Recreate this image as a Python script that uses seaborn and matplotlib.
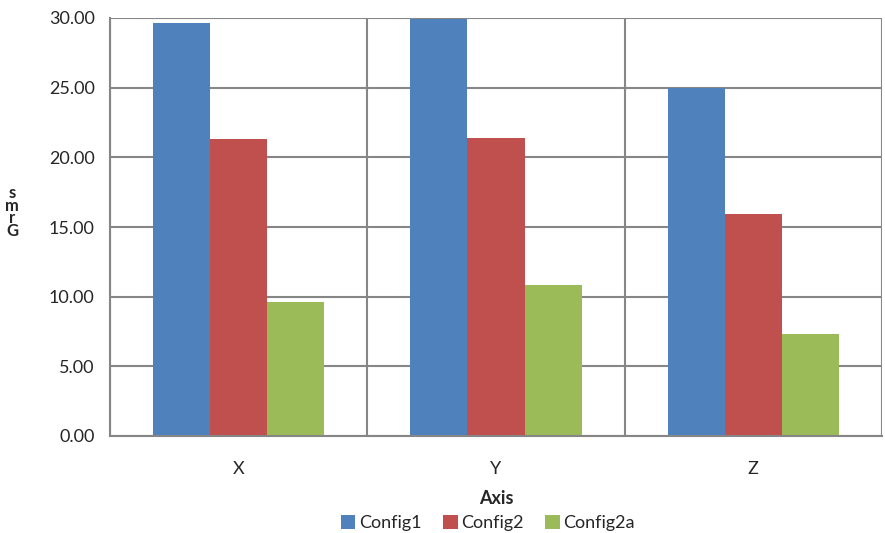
import numpy as np
import pandas as pd
import seaborn as sns
import matplotlib.pyplot as plt
from matplotlib.ticker import FixedLocator

axes_names = ['X', 'Y', 'Z']
config1 = [29.65, 29.93, 24.98]
config2 = [21.28, 21.39, 15.94]
config2a = [9.62, 10.84, 7.32]
series = ['Config1', 'Config2', 'Config2a']
colors = ['#4F81BD', '#C0504D', '#9BBB59']

df = pd.DataFrame({
    'Axis': axes_names * 3,
    'value': config1 + config2 + config2a,
    'config': [s for s in series for _ in axes_names],
})

sns.set_style('white')
plt.rcParams['font.family'] = ['Lato', 'DejaVu Sans']

fig = plt.figure(figsize=(8.85, 5.33), dpi=100)
ax = fig.add_axes([110 / 885, 1 - 436 / 533, (882 - 110) / 885, (436 - 18) / 533])

sns.barplot(data=df, x='Axis', y='value', hue='config', palette=colors,
            width=0.667, gap=0, ax=ax, legend=True, saturation=1, linewidth=0)

grid_c = '#868686'
ax.set_ylim(0, 30)
ax.set_xlim(-0.5, 2.5)
ax.set_yticks(np.arange(0, 31, 5))
ax.set_yticklabels([f'{v:.2f}' for v in np.arange(0, 31, 5)], fontsize=13)
ax.tick_params(axis='y', length=7, color=grid_c, width=1.5, pad=4)
ax.tick_params(axis='x', which='major', length=0, labelsize=13, pad=18)
ax.xaxis.set_minor_locator(FixedLocator([-0.5, 0.5, 1.5, 2.5]))
ax.tick_params(axis='x', which='minor', length=10, color=grid_c, width=1.5)
ax.set_axisbelow(True)
ax.yaxis.grid(True, color=grid_c, linewidth=1.5)
ax.xaxis.grid(True, which='minor', color=grid_c, linewidth=1.5)
for side in ['top', 'right']:
    ax.spines[side].set_visible(False)
for side in ['left', 'bottom']:
    ax.spines[side].set_color(grid_c)
    ax.spines[side].set_linewidth(1.5)

ax.set_xlabel('Axis', fontsize=13, fontweight='bold', labelpad=9)
ax.set_ylabel('')
fig.text(12 / 885, 1 - 212 / 533, 's\nm\nr\nG', fontsize=12, fontweight='bold',
         ha='center', va='center', linespacing=0.75)

ax.legend(loc='center', bbox_to_anchor=(0.5 - 8 / 772, -87 / 418), ncol=3,
          frameon=False, fontsize=13, handlelength=0.8, handleheight=0.8,
          handletextpad=0.2, columnspacing=1.2, title=None,
          borderaxespad=0, borderpad=0)

fig.savefig('out.png', dpi=100)
